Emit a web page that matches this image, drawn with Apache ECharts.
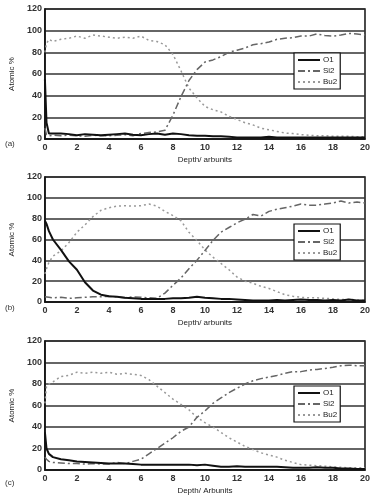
<!DOCTYPE html>
<html>
<head>
<meta charset="utf-8">
<script src="https://cdn.jsdelivr.net/npm/echarts@6/dist/echarts.min.js"></script>
<style>
    html, body { margin: 0; padding: 0; background: #fff; }
    #el { width: 373px; height: 501px; }
</style>
</head>
<body>
<div id="el"></div>
<script>
// depth samples shared by all three profiles
let depth = [0, 0.1, 0.25, 0.5, 1, 1.5, 2, 2.5, 3, 3.5, 4, 4.5, 5, 5.5, 6, 6.5, 7, 7.5, 8, 8.5, 9, 9.5, 10, 10.5, 11, 11.5, 12, 12.5, 13, 13.5, 14, 14.5, 15, 15.5, 16, 16.5, 17, 17.5, 18, 18.5, 19, 19.5, 20]

// (a)
let o1A = [55, 15, 5, 5, 5, 4.5, 3.5, 4.5, 4, 3.5, 4, 4.5, 5, 4, 3.5, 4.5, 5, 4, 5, 4.5, 3.5, 3, 3, 2.5, 2.5, 2, 1.5, 1.5, 1.5, 1.5, 2, 1.5, 1.5, 1.5, 1.5, 1.5, 1.5, 1.5, 1.5, 1.5, 1.5, 1.5, 1.5]
let si2A = [10, 4, 3, 3.5, 3, 3.5, 3, 2.5, 3.5, 3, 3, 3.5, 4, 3, 5, 6, 6.5, 8, 22, 39, 54, 64, 71, 73, 76, 80, 82, 84, 87, 88, 89.5, 92, 93, 93.5, 95, 95, 97, 95.5, 95, 96, 97.5, 97, 96]
let bu2A = [80, 88, 92, 90, 92, 93, 95, 93, 96, 95, 94, 93, 94, 93, 95, 91, 90, 87, 78, 63, 47, 38, 30, 27, 25, 21, 18, 15, 13, 10, 8.5, 7, 5.5, 5, 4, 3.5, 3, 3, 2.5, 2.5, 2.5, 2, 2]

// (b)
let o1B = [78, 75, 68, 60, 50, 39, 31, 19, 11, 7, 5.5, 5, 4, 3.5, 3, 3, 3, 3, 3.5, 3.5, 4, 5, 4, 3.5, 3, 3, 2.5, 2, 1.5, 1.5, 1.5, 2, 1.5, 2, 2.5, 2, 2, 1.5, 2, 1.5, 2.5, 1.5, 1.5]
let si2B = [5, 5, 4.5, 4, 4.5, 3.5, 4, 4.5, 5, 5, 5.5, 5, 4, 5, 4.5, 4, 3.5, 8.5, 16, 23, 32, 40, 49.5, 59, 67, 71.5, 76, 79.5, 84, 82.5, 87, 89, 90.5, 92, 94, 93, 93, 94, 95, 97, 95, 96, 95]
let bu2B = [27, 32, 38, 44, 49, 57, 67, 74, 82, 88, 90.5, 92, 92.5, 92, 92.5, 94, 92, 87, 83, 78, 67, 59, 50, 43, 37, 31, 24, 20, 18, 15, 13, 10, 7, 5.5, 4.5, 4, 4, 3.5, 3, 2.5, 2.5, 2, 1.5]

// (c)
let o1C = [35, 20, 15, 12, 10, 9, 8, 7.5, 7, 6.5, 6, 6, 6, 5.5, 5, 5, 5, 5, 5, 5, 5, 4.5, 5, 4, 3, 3, 3.5, 3, 3, 3, 3, 3, 2.5, 2, 2, 2, 2.5, 2, 2, 1.5, 1.5, 1, 1]
let si2C = [12, 10, 8, 7, 6.5, 6, 6, 5.5, 6, 5.5, 5.5, 7, 6, 8, 10, 15, 20, 25, 30, 36, 40, 49, 55, 62, 67, 72, 76, 80, 83, 85, 86.5, 88, 90, 91.5, 91.5, 93, 93.5, 94.5, 95.5, 97, 97.5, 97, 97]
let bu2C = [62, 78, 80, 82, 87, 88, 91, 90, 91, 90, 91, 89, 90, 89, 88, 84, 78, 72, 66, 61, 56, 49, 44, 40, 35, 30, 26, 22, 19, 16, 14, 12, 9, 7, 5, 4.5, 4, 3.5, 3, 2.5, 2, 2, 2]

let xTicks = [0, 2, 4, 6, 8, 10, 12, 14, 16, 18, 20]
let panelLabels = ['(a)', '(b)', '(c)']
let xNames = ['Depth/ arbunits', 'Depth/ arbunits', 'Depth/ Arbunits']
let seriesNames = ['O1', 'Si2', 'Bu2']

let panels = [
    { top: 9, height: 130, data: [o1A, si2A, bu2A], legendTop: 53, labelTop: 140 },
    { top: 177, height: 125, data: [o1B, si2B, bu2B], legendTop: 224, labelTop: 304 },
    { top: 341, height: 129, data: [o1C, si2C, bu2C], legendTop: 386, labelTop: 479 }
]

let lineStyles = [
    { color: '#111', width: 2, type: 'solid' },
    { color: '#666', width: 1.5, type: [7, 3, 2, 3] },
    { color: '#999', width: 1.5, type: [2, 3] }
]

function pairs(vals) {
    return depth.map((d, i) => [d, vals[i]])
}

let option = {
    backgroundColor: '#fff',
    animation: false,
    textStyle: { fontFamily: 'Liberation Sans, Arial, sans-serif', color: '#222' },
    grid: [],
    xAxis: [],
    yAxis: [],
    legend: [],
    series: [],
    graphic: []
}

panels.forEach((p, k) => {
    option.grid.push({
        left: 35, right: 7, top: p.top, height: p.height,
        show: true, borderColor: '#111', borderWidth: 1.5, backgroundColor: '#fff'
    })
    option.xAxis.push({
        type: 'value', gridIndex: k, min: 0, max: 20, interval: 2,
        name: xNames[k], nameLocation: 'middle', nameGap: 17,
        nameTextStyle: { fontSize: 8, color: '#222' },
        axisLine: { lineStyle: { color: '#111', width: 1.5 } },
        axisTick: { show: false },
        axisLabel: { fontSize: 9, fontWeight: 'bold', color: '#333', margin: 4,
            customValues: xTicks },
        splitLine: { show: false }
    })
    option.yAxis.push({
        type: 'value', gridIndex: k, min: 0, max: 120, interval: 20,
        name: 'Atomic %', nameLocation: 'middle', nameGap: 20,
        nameTextStyle: { fontSize: 8, color: '#222' },
        axisLine: { show: true, lineStyle: { color: '#111', width: 1.5 } },
        axisTick: { show: false },
        axisLabel: { fontSize: 9, fontWeight: 'bold', color: '#333', margin: 3 },
        splitLine: { show: true, lineStyle: { color: '#333', width: 1.5 } }
    })
    option.legend.push({
        data: seriesNames,
        orient: 'vertical',
        left: 294, top: p.legendTop,
        padding: [3, 3, 3, 3],
        itemGap: 3,
        itemWidth: 22, itemHeight: 6,
        borderColor: '#111', borderWidth: 1.2,
        backgroundColor: '#fff',
        itemStyle: { opacity: 0 },
        textStyle: { fontSize: 8, color: '#222', padding: [0, 0, 0, -2] },
        selectedMode: false
    })
    p.data.forEach((vals, j) => {
        option.series.push({
            name: seriesNames[j],
            type: 'line',
            xAxisIndex: k, yAxisIndex: k,
            data: pairs(vals),
            showSymbol: false,
            symbol: 'none',
            lineStyle: lineStyles[j],
            itemStyle: { color: lineStyles[j].color },
            z: 3 - j
        })
    })
    option.graphic.push({
        type: 'text', left: 5, top: p.labelTop,
        style: { text: panelLabels[k], fontSize: 8, fill: '#333', fontFamily: 'Liberation Sans, Arial, sans-serif' }
    })
})

let myCharts = echarts.init(document.querySelector('#el'))
myCharts.setOption(option)
</script>
</body>
</html>
